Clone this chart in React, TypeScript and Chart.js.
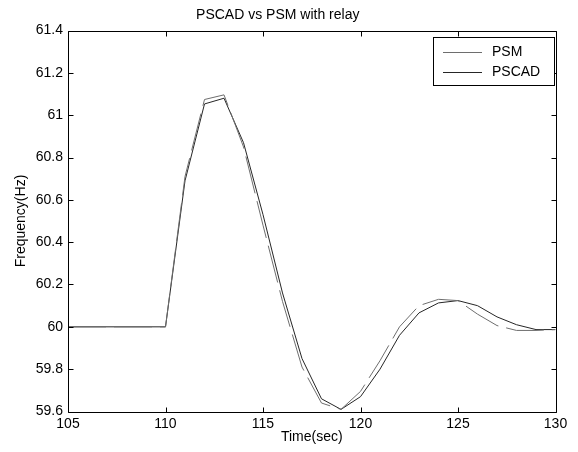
import { useEffect, useRef } from "react";
import { Chart, registerables } from "chart.js";

Chart.register(...registerables);

const timeSec = [105, 110, 111, 112, 113, 114, 115, 116, 117, 118, 119, 120, 121, 122, 123, 124, 125, 126, 127, 128, 129, 130];
const psmHz = [60, 60, 60.71, 61.074, 61.096, 60.85, 60.48, 60.12, 59.81, 59.64, 59.61, 59.695, 59.84, 60.0, 60.1, 60.13, 60.124, 60.06, 60.006, 59.983, 59.983, 59.987];
const pscadHz = [60, 60, 60.69, 61.053, 61.08, 60.87, 60.53, 60.16, 59.85, 59.66, 59.61, 59.67, 59.8, 59.96, 60.066, 60.113, 60.124, 60.1, 60.047, 60.01, 59.987, 59.987];
const seriesLabels = ["PSM", "PSCAD"];
const chartTitle = "PSCAD vs PSM with relay";
const xTitle = "Time(sec)";
const yTitle = "Frequency(Hz)";

const FONT = "'Liberation Sans', Arial, sans-serif";

const framePlugin = {
  id: "matlabFrame",
  afterDraw(chart: any) {
    const { ctx, chartArea: a, scales } = chart;
    const xs = scales.x;
    const ys = scales.y;
    const L = Math.round(a.left) + 0.5;
    const R = Math.round(a.right) + 0.5;
    const T = Math.round(a.top) + 0.5;
    const B = Math.round(a.bottom) + 0.5;
    ctx.save();
    ctx.strokeStyle = "#000";
    ctx.lineWidth = 1;
    ctx.beginPath();
    ctx.rect(L, T, R - L, B - T);
    ctx.stroke();
    const tl = 5;
    ctx.beginPath();
    xs.ticks.forEach((t: any) => {
      const px = Math.round(xs.getPixelForValue(t.value)) + 0.5;
      ctx.moveTo(px, B);
      ctx.lineTo(px, B - tl);
      ctx.moveTo(px, T);
      ctx.lineTo(px, T + tl);
    });
    ys.ticks.forEach((t: any) => {
      const py = Math.round(ys.getPixelForValue(t.value)) + 0.5;
      ctx.moveTo(L, py);
      ctx.lineTo(L + tl, py);
      ctx.moveTo(R, py);
      ctx.lineTo(R - tl, py);
    });
    ctx.stroke();

    // legend box inside the axes, top-right
    const bx1 = 433.5, bx2 = R - 2, by1 = 37.5, by2 = 85.5;
    ctx.fillStyle = "#fff";
    ctx.fillRect(bx1, by1, bx2 - bx1, by2 - by1);
    ctx.strokeRect(bx1, by1, bx2 - bx1, by2 - by1);
    const rows = [52, 72];
    chart.data.datasets.forEach((ds: any, i: number) => {
      const yy = rows[i] + 0.5;
      ctx.strokeStyle = ds.borderColor;
      ctx.lineWidth = 1;
      ctx.setLineDash([]);
      ctx.beginPath();
      ctx.moveTo(443, yy);
      ctx.lineTo(482, yy);
      ctx.stroke();
      ctx.fillStyle = "#000";
      ctx.font = `14px ${FONT}`;
      ctx.textBaseline = "middle";
      ctx.textAlign = "left";
      ctx.fillText(ds.label, 492, yy);
    });
    ctx.restore();
  },
};

export default function App() {
  const ref = useRef<HTMLCanvasElement | null>(null);
  useEffect(() => {
    if (!ref.current) return;
    const chart = new Chart(ref.current, {
      type: "line",
      data: {
        datasets: [
          {
            label: seriesLabels[0],
            data: timeSec.map((t, i) => ({ x: t, y: psmHz[i] })),
            borderColor: "#6e6e6e",
            borderWidth: 1,
            borderDash: [38, 8],
            pointRadius: 0,
            tension: 0,
            fill: false,
          },
          {
            label: seriesLabels[1],
            data: timeSec.map((t, i) => ({ x: t, y: pscadHz[i] })),
            borderColor: "#262626",
            borderWidth: 1,
            pointRadius: 0,
            tension: 0,
            fill: false,
          },
        ],
      },
      options: {
        animation: false,
        responsive: false,
        devicePixelRatio: 1,
        layout: { padding: { left: 0, right: 22.5, top: 0, bottom: 0 } },
        plugins: {
          legend: { display: false },
          tooltip: { enabled: false },
          title: {
            display: true,
            text: chartTitle,
            color: "#000",
            font: { family: FONT, size: 14, weight: "normal" },
            padding: { top: 6.5, bottom: 7.2 },
          },
        },
        scales: {
          x: {
            type: "linear",
            min: 105,
            max: 130,
            ticks: { stepSize: 5, color: "#000", font: { family: FONT, size: 14 }, padding: 4, maxRotation: 0 },
            grid: { display: false, drawTicks: false },
            border: { display: false },
            title: { display: true, text: xTitle, color: "#000", font: { family: FONT, size: 14 }, padding: { top: 0, bottom: 6 } },
            afterFit: (s: any) => {
              s.height = 40.5;
            },
          },
          y: {
            type: "linear",
            min: 59.6,
            max: 61.4,
            ticks: {
              stepSize: 0.2,
              color: "#000",
              font: { family: FONT, size: 14 },
              padding: 5,
              callback: (v: any) => String(parseFloat(Number(v).toFixed(1))),
            },
            grid: { display: false, drawTicks: false },
            border: { display: false },
            title: { display: true, text: yTitle, color: "#000", font: { family: FONT, size: 14 }, padding: { top: 13, bottom: 0 } },
            afterFit: (s: any) => {
              s.width = 68;
            },
          },
        },
      },
      plugins: [framePlugin],
    });
    return () => chart.destroy();
  }, []);
  return (
    <div style={{ position: "absolute", left: 0, top: 0, width: 578, height: 452, background: "#fff" }}>
      <canvas ref={ref} width={578} height={452} />
    </div>
  );
}
